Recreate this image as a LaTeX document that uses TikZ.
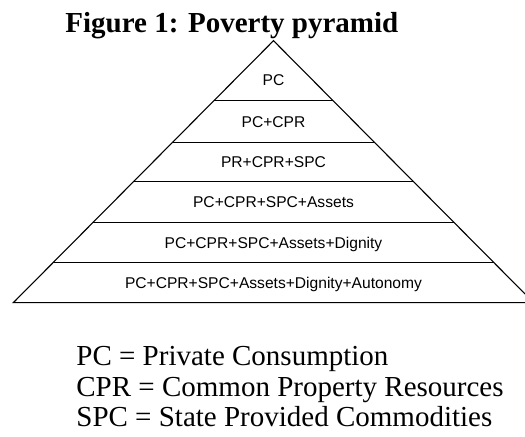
\documentclass[tikz,border=0pt]{standalone}
\usepackage{fontspec}
\setmainfont{Liberation Serif}
\newfontfamily\tierfont{Liberation Sans}

\providecommand{\Band}[1]{
\draw[edge] ({273.5-0.993*(#1-40.7)},#1) -- ({273.5+0.993*(#1-40.7)},#1);
}

\begin{document}
\begin{tikzpicture}[x=0.5pt,y=-0.5pt,
  edge/.style={line width=0.55pt},
  tier/.style={font=\tierfont\fontsize{7.8}{9}\selectfont,inner sep=0pt,anchor=base},
  legend/.style={font=\fontsize{14.5}{16}\selectfont,inner sep=0pt,anchor=base west}]
\useasboundingbox (0,0) rectangle (525,437);
% title
\node[legend,font=\bfseries\fontsize{14.5}{16}\selectfont] (title) at (65,33) {Figure 1: Poverty pyramid};
% pyramid outline and bands
\coordinate (apex) at (273.5,40.7);
\coordinate (baseL) at (13.3,302.7);
\coordinate (baseR) at (533.7,302.7);
\draw[edge] (baseL) -- (apex) -- (baseR) -- cycle;
\Band{100.7}\Band{142.3}\Band{181.3}\Band{222.3}\Band{262.7}
% tier labels
\node[tier] (pc) at (273.5,85.6) {PC};
\node[tier] (cpr) at (273.5,127.1) {PC+CPR};
\node[tier] (spc) at (273.5,167.4) {PR+CPR+SPC};
\node[tier] (assets) at (273.5,207.4) {PC+CPR+SPC+Assets};
\node[tier] (dignity) at (273.5,248.1) {PC+CPR+SPC+Assets+Dignity};
\node[tier] (autonomy) at (273.5,288.3) {PC+CPR+SPC+Assets+Dignity+Autonomy};
% key
\node[legend] (keypc) at (76,366) {PC = Private Consumption};
\node[legend] (keycpr) at (76,397) {CPR = Common Property Resources};
\node[legend] (keyspc) at (76,427) {SPC = State Provided Commodities};
\end{tikzpicture}
\end{document}
